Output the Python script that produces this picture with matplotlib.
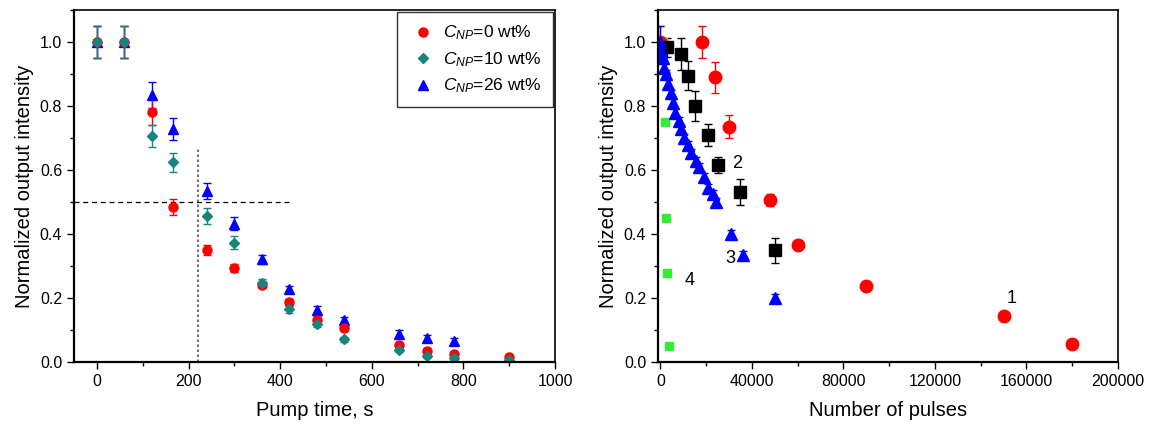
import matplotlib
matplotlib.use("Agg")
import matplotlib.pyplot as plt
from matplotlib.lines import Line2D
from matplotlib.ticker import MultipleLocator, FormatStrFormatter

plt.rcParams["font.family"] = ["Liberation Sans", "DejaVu Sans"]
plt.rcParams["mathtext.fontset"] = "custom"
plt.rcParams["mathtext.it"] = "Liberation Sans:italic"
plt.rcParams["mathtext.rm"] = "Liberation Sans"

# left panel: pump time series
t_s = [0, 60, 120, 165, 240, 300, 360, 420, 480, 540, 660, 720, 780, 900]
np0 = [1.0, 1.0, 0.782, 0.484, 0.351, 0.295, 0.242, 0.188, 0.133, 0.107, 0.053, 0.035, 0.024, 0.016]
np0_err = [0.05, 0.05, 0.04, 0.025, 0.015, 0.012, 0.01, 0.01, 0.01, 0.01, 0.008, 0.008, 0.008, 0.006]
np10 = [1.0, 1.0, 0.706, 0.624, 0.457, 0.373, 0.248, 0.165, 0.12, 0.072, 0.038, 0.019, 0.012, 0.006]
np10_err = [0.05, 0.05, 0.035, 0.031, 0.025, 0.02, 0.012, 0.01, 0.01, 0.008, 0.006, 0.006, 0.006, 0.005]
t_s26 = [0, 60, 120, 165, 240, 300, 360, 420, 480, 540, 660, 720, 780]
np26 = [1.0, 1.0, 0.834, 0.728, 0.534, 0.433, 0.321, 0.227, 0.164, 0.131, 0.089, 0.074, 0.065]
np26_err = [0.05, 0.05, 0.04, 0.035, 0.025, 0.02, 0.015, 0.012, 0.01, 0.01, 0.01, 0.01, 0.01]
labels_left = ["$C_{NP}$=0 wt%", "$C_{NP}$=10 wt%", "$C_{NP}$=26 wt%"]

# right panel: pulses series
p1 = [0, 18000, 24000, 30000, 48000, 60000, 90000, 150000, 180000]
s1 = [1.0, 1.0, 0.89, 0.736, 0.507, 0.367, 0.239, 0.144, 0.058]
s1_err = [0.05, 0.05, 0.048, 0.035, 0.02, 0.015, 0.01, 0.008, 0.006]
p2 = [3000, 9000, 12000, 15000, 21000, 25000, 35000, 50000]
s2 = [0.984, 0.962, 0.895, 0.80, 0.711, 0.616, 0.531, 0.349]
s2_err = [0.03, 0.05, 0.045, 0.047, 0.034, 0.025, 0.04, 0.04]
p3 = [0, 500, 1000, 1500, 2500, 3500, 4500, 5500, 6500, 8000, 9000, 10500, 12000,
      13500, 15500, 17000, 19000, 21000, 23000, 24500, 31000, 36000, 50000]
s3 = [1.0, 0.97, 0.95, 0.92, 0.90, 0.87, 0.84, 0.81, 0.78, 0.755, 0.73, 0.70, 0.68,
      0.655, 0.63, 0.61, 0.58, 0.545, 0.525, 0.50, 0.40, 0.335, 0.20]
s3_err = [0.05] + [0.012] * 22
p4 = [1000, 2000, 2500, 3000, 4000]
s4 = [1.0, 0.752, 0.449, 0.277, 0.05]

RED = "#ff0000"
TEAL = "#17857d"
BLUE = "#0000ff"
GREEN = "#33ee33"

fig = plt.figure(figsize=(11.51, 4.25), dpi=100)
ax1 = fig.add_axes([0.0643, 0.148, 0.418, 0.828])
ax2 = fig.add_axes([0.5717, 0.148, 0.3996, 0.828])

eb = dict(ls="none", capsize=3, elinewidth=1, capthick=1)
ax1.errorbar(t_s26, np26, yerr=np26_err, fmt="^", color=BLUE, ms=7, **eb)
ax1.errorbar(t_s, np0, yerr=np0_err, fmt="o", color=RED, ms=6.5, **eb)
ax1.errorbar(t_s, np10, yerr=np10_err, fmt="D", color=TEAL, ms=5.5, **eb)
ax1.plot([-50, 425], [0.5, 0.5], ls=(0, (4, 3)), color="black", lw=0.9)
ax1.plot([220, 220], [0, 0.67], ls=(0, (1.5, 1.5)), color="#555555", lw=1.2)

handles = [Line2D([], [], ls="none", marker="o", color=RED, ms=6.5),
           Line2D([], [], ls="none", marker="D", color=TEAL, ms=5.5),
           Line2D([], [], ls="none", marker="^", color=BLUE, ms=7)]
leg = ax1.legend(handles, labels_left, loc="upper right", bbox_to_anchor=(0.995, 0.994),
                 fontsize=12.5, frameon=True, fancybox=False, edgecolor="black",
                 handlelength=1.7, handletextpad=0.3, borderpad=0.65, labelspacing=0.45,
                 borderaxespad=0)
leg.get_frame().set_linewidth(1.0)

ax1.set_xlim(-50, 1000)
ax1.set_ylim(0, 1.1)
ax1.xaxis.set_major_locator(MultipleLocator(200))
ax1.xaxis.set_minor_locator(MultipleLocator(100))
ax1.set_xlabel("Pump time, s", fontsize=14.5, labelpad=9)
ax1.set_ylabel("Normalized output intensity", fontsize=14.5)

ax2.errorbar(p1, s1, yerr=s1_err, fmt="o", color=RED, ms=9, **eb)
ax2.errorbar(p2, s2, yerr=s2_err, fmt="s", color="black", ms=8, **eb)
ax2.errorbar(p3, s3, yerr=s3_err, fmt="^", color=BLUE, ms=9, **eb)
ax2.plot(p4, s4, "s", color=GREEN, ms=6, ls="none")
ax2.text(31500, 0.62, "2", fontsize=13, va="center")
ax2.text(28300, 0.323, "3", fontsize=13, va="center")
ax2.text(10500, 0.254, "4", fontsize=13, va="center")
ax2.text(151500, 0.2, "1", fontsize=13, va="center")

ax2.set_xlim(-1000, 200000)
ax2.set_ylim(0, 1.1)
ax2.xaxis.set_major_locator(MultipleLocator(40000))
ax2.xaxis.set_minor_locator(MultipleLocator(20000))
ax2.set_xlabel("Number of pulses", fontsize=14.5, labelpad=9)
ax2.set_ylabel("Normalized output intensity", fontsize=14.5)

for ax in (ax1, ax2):
    ax.yaxis.set_major_locator(MultipleLocator(0.2))
    ax.yaxis.set_minor_locator(MultipleLocator(0.1))
    ax.yaxis.set_major_formatter(FormatStrFormatter("%.1f"))
    ax.tick_params(which="major", direction="out", length=5, width=1, labelsize=11.5)
    ax.tick_params(which="minor", direction="out", length=3, width=1)
    for sp in ax.spines.values():
        sp.set_linewidth(1.2)
    ax.spines["left"].set_linewidth(1.6)
    ax.spines["bottom"].set_linewidth(1.6)

fig.savefig("out.png", dpi=100)
